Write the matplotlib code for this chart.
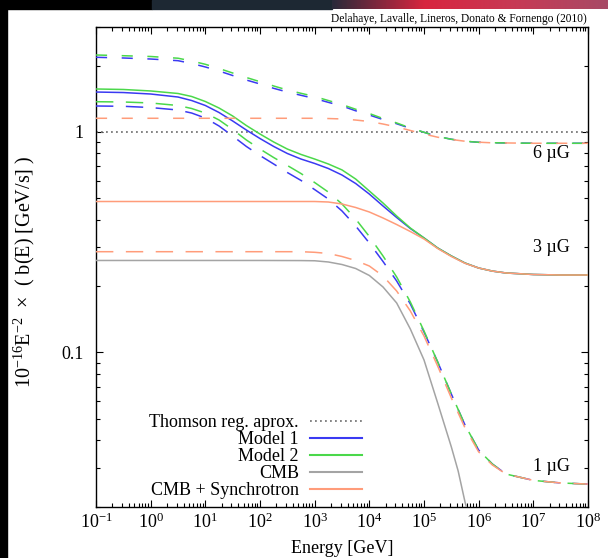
import numpy as np
import matplotlib
matplotlib.use('Agg')
import matplotlib.pyplot as plt
from matplotlib.lines import Line2D
from matplotlib.patches import Rectangle
from matplotlib.colors import LinearSegmentedColormap
from matplotlib.ticker import LogLocator, NullFormatter, FuncFormatter

plt.rcParams['font.family'] = ['Liberation Serif', 'DejaVu Serif']
plt.rcParams['mathtext.fontset'] = 'custom'
plt.rcParams['mathtext.rm'] = 'Liberation Serif'
plt.rcParams['mathtext.it'] = 'Liberation Serif:italic'
plt.rcParams['mathtext.bf'] = 'Liberation Serif:bold'
plt.rcParams['lines.scale_dashes'] = False

# log10(E / GeV) sampling of the loss curves
log_e = [-1, -0.5, 0, 0.5, 0.75, 1, 1.25, 1.5, 1.75, 2, 2.25, 2.5, 2.75, 3, 3.25,
         3.5, 3.75, 4, 4.25, 4.5, 4.75, 5, 5.25, 5.5, 5.75, 6, 6.25, 6.5, 7, 7.5, 8]

# E^-2 b(E) in units of 1e-16 GeV/s, dashed = 6 and 1 muG, solid = 3 muG
model1_6ug = [2.182, 2.166, 2.143, 2.106, 2.045, 1.972, 1.891, 1.804, 1.721, 1.651,
              1.578, 1.518, 1.467, 1.419, 1.363, 1.312, 1.248, 1.194, 1.139, 1.090,
              1.039, 0.997, 0.954, 0.927, 0.908, 0.898, 0.894, 0.892, 0.889, 0.889, 0.889]
model2_6ug = [2.235, 2.218, 2.200, 2.161, 2.099, 2.028, 1.941, 1.852, 1.767, 1.691,
              1.617, 1.551, 1.498, 1.449, 1.389, 1.332, 1.268, 1.213, 1.151, 1.099,
              1.043, 0.997, 0.954, 0.927, 0.908, 0.898, 0.894, 0.892, 0.889, 0.889, 0.889]
model1_3ug = [1.518, 1.510, 1.487, 1.441, 1.389, 1.319, 1.226, 1.122, 1.021, 0.934,
              0.860, 0.799, 0.754, 0.720, 0.683, 0.638, 0.584, 0.523, 0.4618, 0.4095,
              0.3650, 0.3307, 0.2978, 0.2740, 0.2545, 0.2416, 0.234, 0.2294, 0.2258,
              0.2246, 0.2246]
model2_3ug = [1.567, 1.559, 1.535, 1.495, 1.449, 1.375, 1.285, 1.182, 1.070, 0.979,
              0.901, 0.837, 0.791, 0.754, 0.716, 0.673, 0.612, 0.540, 0.4764, 0.4159,
              0.3669, 0.3307, 0.2978, 0.2740, 0.2545, 0.2416, 0.234, 0.2294, 0.2258,
              0.2246, 0.2246]
model1_1ug = [1.312, 1.308, 1.291, 1.258, 1.219, 1.157, 1.065, 0.959, 0.860, 0.782,
              0.716, 0.655, 0.603, 0.548, 0.4967, 0.4383, 0.3747, 0.3137, 0.2587, 0.2110,
              0.1660, 0.1239, 0.0906, 0.0648, 0.0469, 0.0361, 0.0312, 0.0281, 0.0263,
              0.0256, 0.0253]
model2_1ug = [1.372, 1.368, 1.354, 1.319, 1.278, 1.219, 1.134, 1.026, 0.920, 0.837,
              0.766, 0.705, 0.648, 0.590, 0.534, 0.4715, 0.4031, 0.3358, 0.2740, 0.2200,
              0.1694, 0.1252, 0.0906, 0.0648, 0.0469, 0.0361, 0.0312, 0.0281, 0.0263,
              0.0256, 0.0253]
sync_6ug = [1.154, 1.154, 1.154, 1.154, 1.154, 1.154, 1.154, 1.154, 1.154, 1.154,
            1.154, 1.154, 1.154, 1.154, 1.151, 1.146, 1.133, 1.116, 1.087, 1.054,
            1.016, 0.979, 0.947, 0.925, 0.908, 0.899, 0.893, 0.892, 0.889, 0.889, 0.889]
sync_3ug = [0.4839, 0.4839, 0.4839, 0.4839, 0.4839, 0.4839, 0.4839, 0.4839, 0.4839,
            0.4839, 0.4839, 0.4839, 0.4839, 0.4839, 0.4814, 0.4715, 0.4546, 0.4337,
            0.4074, 0.3805, 0.3537, 0.3271, 0.2962, 0.2725, 0.2538, 0.2416, 0.234,
            0.2294, 0.2258, 0.2246, 0.2246]
sync_1ug = [0.2865, 0.2865, 0.2865, 0.2865, 0.2865, 0.2865, 0.2865, 0.2865, 0.2865,
            0.2865, 0.2865, 0.2865, 0.2865, 0.2847, 0.2812, 0.2725, 0.2614, 0.2467,
            0.2223, 0.1900, 0.1543, 0.1188, 0.0868, 0.0622, 0.0455, 0.0354, 0.0309,
            0.0281, 0.0263, 0.0256, 0.0253]

# CMB only, sampled finer where it drops
cmb_log_e = [-1, 0, 1, 2, 2.75, 3, 3.25, 3.5, 3.75, 4, 4.25, 4.5, 4.75, 5, 5.25,
             5.5, 5.625, 5.75, 5.85, 6.0]
cmb = [0.2614, 0.2614, 0.2614, 0.2614, 0.2611, 0.2606, 0.2573, 0.2506, 0.2404, 0.2235,
       0.1982, 0.1677, 0.1278, 0.0925, 0.0590, 0.0373, 0.0290, 0.0210, 0.0170, 0.0115]

thomson_level = 1.0

field_labels = ['6 \u00b5G', '3 \u00b5G', '1 \u00b5G']
field_label_y = [0.80, 0.298, 0.0303]

c_blue = '#3a3af2'
c_green = '#4bd84b'
c_gray = '#a4a4a4'
c_orange = '#ff9c7a'
c_dot = '#7a7a7a'

dash_6 = (0, (8, 10.5))
dash_1 = (0, (12.5, 9))
dots = (0, (1.3, 2.3))

energy = 10 ** np.array(log_e, dtype=float)
cmb_energy = 10 ** np.array(cmb_log_e, dtype=float)

fig = plt.figure(figsize=(6.08, 5.58), dpi=100)
ax = fig.add_axes([96 / 608, 1 - 506.6 / 558, 492 / 608, 479.8 / 558])

ax.axhline(thomson_level, color=c_dot, lw=1.3, ls=dots, zorder=2)
ax.plot(cmb_energy, cmb, color=c_gray, lw=1.1, zorder=3)

ax.plot(energy, model1_6ug, color=c_blue, lw=1.1, ls=dash_6, zorder=4)
ax.plot(energy, model2_6ug, color=c_green, lw=1.1, ls=dash_6, zorder=4)
ax.plot(energy, model1_3ug, color=c_blue, lw=1.1, zorder=4)
ax.plot(energy, model2_3ug, color=c_green, lw=1.1, zorder=4)
ax.plot(energy, model1_1ug, color=c_blue, lw=1.1, ls=dash_1, zorder=4)
ax.plot(energy, model2_1ug, color=c_green, lw=1.1, ls=dash_1, zorder=4)

ax.plot(energy, sync_6ug, color=c_orange, lw=1.1, ls=dash_6, zorder=5)
ax.plot(energy, sync_3ug, color=c_orange, lw=1.1, zorder=5)
ax.plot(energy, sync_1ug, color=c_orange, lw=1.1, ls=dash_1, zorder=5)

for lab, yv in zip(field_labels, field_label_y):
    ax.text(4.6e7, yv, lab, ha='right', va='center', fontsize=13)

ax.set_xscale('log')
ax.set_yscale('log')
ax.set_xlim(1e-1, 1e8)
ax.set_ylim(0.02, 3)

ax.xaxis.set_major_locator(LogLocator(base=10, numticks=20))
ax.xaxis.set_minor_locator(LogLocator(base=10, subs=np.arange(2, 10), numticks=20))
ax.xaxis.set_minor_formatter(NullFormatter())
ax.yaxis.set_major_locator(LogLocator(base=10, numticks=10))
ax.yaxis.set_minor_locator(LogLocator(base=10, subs=np.arange(2, 10), numticks=10))
ax.yaxis.set_major_formatter(FuncFormatter(lambda v, _: '%g' % v))
ax.yaxis.set_minor_formatter(NullFormatter())

ax.tick_params(which='both', direction='in', top=True, right=True, width=0.8)
ax.tick_params(which='major', length=5)
ax.tick_params(which='minor', length=3)
ax.tick_params(axis='x', which='major', labelsize=13, pad=4)
ax.tick_params(axis='y', which='major', labelsize=13, pad=9)
for sp in ax.spines.values():
    sp.set_linewidth(1.0)

ax.set_xlabel('Energy [GeV]', fontsize=13, labelpad=6)
ax.set_ylabel('$10^{-16}\\mathrm{E}^{-2}$  \u00d7  ( b(E) [GeV/s] )', fontsize=14.5)
ax.yaxis.set_label_coords(-0.12, 0.49)

handles = [
    Line2D([], [], color=c_dot, lw=1.3, ls=dots),
    Line2D([], [], color=c_blue, lw=1.5),
    Line2D([], [], color=c_green, lw=1.5),
    Line2D([], [], color=c_gray, lw=1.5),
    Line2D([], [], color=c_orange, lw=1.5),
]
names = ['Thomson reg. aprox.', 'Model 1', 'Model 2', 'CMB', 'CMB + Synchrotron']
ax.legend(handles, names, loc='lower right', bbox_to_anchor=(0.541, 0.015),
          frameon=False, markerfirst=False, fontsize=13, handlelength=2.9,
          handletextpad=0.6, labelspacing=0.0, borderpad=0, borderaxespad=0)

fig.text(587 / 608, 1 - 19 / 558,
         'Delahaye, Lavalle, Lineros, Donato & Fornengo (2010)',
         ha='right', va='center', fontsize=8.3)

# dark window frame along the left and top edges
fig.add_artist(Rectangle((0, 0), 7 / 608, 1, transform=fig.transFigure,
                         color='black', zorder=0))
fig.add_artist(Rectangle((0, 1 - 9 / 558), 152 / 608, 9 / 558,
                         transform=fig.transFigure, color='black', zorder=0))
fig.add_artist(Rectangle((152 / 608, 1 - 9 / 558), 180 / 608, 9 / 558,
                         transform=fig.transFigure, color='#1d2833', zorder=0))
bar = fig.add_axes([332 / 608, 1 - 9 / 558, 276 / 608, 9 / 558])
bar_cmap = LinearSegmentedColormap.from_list(
    'bar', ['#2a2a3a', '#d8253f', '#c73a55', '#a84a66'])
bar.imshow(np.linspace(0, 1, 200)[None, :], cmap=bar_cmap, aspect='auto')
bar.axis('off')

fig.savefig('out.png', dpi=100)
